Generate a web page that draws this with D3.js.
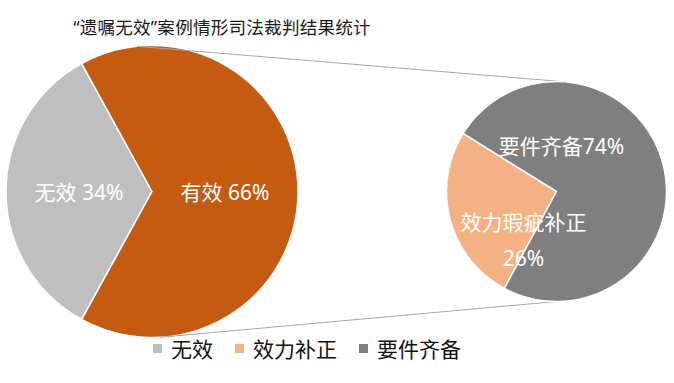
<!DOCTYPE html>
<html><head><meta charset="utf-8">
<script src="https://cdn.jsdelivr.net/npm/d3@7"></script>
<style>
body{margin:0;background:#fff;}
svg text{font-family:"Noto Sans","Noto Sans CJK SC",sans-serif;}
</style></head>
<body>
<svg id="chart" width="674" height="383"></svg>
<script>
// ---- data ----
const title = "“遗嘱无效”案例情形司法裁判结果统计";
const mainCategories = ["无效", "有效"];
const mainValues = [34, 66];
const subCategories = ["效力瑕疵补正", "要件齐备"];
const subValues = [26, 74];
const legendLabels = ["无效", "效力补正", "要件齐备"];

// ---- style / layout ----
const mainColors = ["#BFBFBF", "#C55A11"];
const subColors = ["#F4B183", "#7F7F7F"];
const legendColors = ["#BFBFBF", "#F4B183", "#7F7F7F"];
const deg = Math.PI / 180;

const svg = d3.select("#chart");

const main = {cx: 152, cy: 191.5, r: 146};
const sub = {cx: 556.5, cy: 191.5, r: 110};

// title
svg.append("text").attr("x", 222).attr("y", 34)
  .attr("text-anchor", "middle").attr("font-size", 17.6).attr("fill", "#1a1a1a")
  .attr("letter-spacing", 0.2)
  .text(title);

// main pie: 无效 slice centered on the left
const mainStart = (270 - mainValues[0] / 100 * 360 / 2) * deg;
const mainPie = d3.pie().sort(null).startAngle(mainStart).endAngle(mainStart + 2 * Math.PI);
const mainArcs = mainPie(mainValues);
const mainArc = d3.arc().innerRadius(0).outerRadius(main.r);
const gMain = svg.append("g").attr("transform", `translate(${main.cx},${main.cy})`);
gMain.selectAll("path").data(mainArcs).join("path")
  .attr("d", mainArc).attr("fill", (d, i) => mainColors[i])
  .attr("stroke", "#fff").attr("stroke-width", 1.5).attr("stroke-linejoin", "round");

const mainLabelArc = d3.arc().innerRadius(main.r * 0.5).outerRadius(main.r * 0.5);
gMain.selectAll("text").data(mainArcs).join("text")
  .attr("transform", d => { const c = mainLabelArc.centroid(d); return `translate(${c[0]},${c[1] + 8})`; })
  .attr("text-anchor", "middle").attr("font-size", 21).attr("fill", "#fff")
  .text((d, i) => `${mainCategories[i]} ${mainValues[i]}%`);

// sub pie
const subStart = 208.3 * deg;
const subPie = d3.pie().sort(null).startAngle(subStart).endAngle(subStart + 2 * Math.PI);
const subArcs = subPie(subValues);
const subArc = d3.arc().innerRadius(0).outerRadius(sub.r);

// connector lines
const pt = (c, a) => [c.cx + c.r * Math.sin(a * deg), c.cy - c.r * Math.cos(a * deg)];
const connectors = [[pt(main, -6), pt(sub, 5)], [pt(main, 177), pt(sub, 180)]];
svg.append("g").selectAll("line").data(connectors).join("line")
  .attr("x1", d => d[0][0]).attr("y1", d => d[0][1])
  .attr("x2", d => d[1][0]).attr("y2", d => d[1][1])
  .attr("stroke", "#A6A6A6").attr("stroke-width", 1);

const gSub = svg.append("g").attr("transform", `translate(${sub.cx},${sub.cy})`);
gSub.selectAll("path").data(subArcs).join("path")
  .attr("d", subArc).attr("fill", (d, i) => subColors[i])
  .attr("stroke", "#fff").attr("stroke-width", 1.5).attr("stroke-linejoin", "round");

// sub labels
gSub.append("text").attr("x", 5).attr("y", -46 + 8)
  .attr("text-anchor", "middle").attr("font-size", 21).attr("fill", "#fff")
  .text(`${subCategories[1]}${subValues[1]}%`);
const t2 = gSub.append("text").attr("text-anchor", "middle").attr("font-size", 21).attr("fill", "#fff");
t2.append("tspan").attr("x", -33).attr("y", 30 + 8).text(subCategories[0]);
t2.append("tspan").attr("x", -33).attr("y", 66 + 8).text(`${subValues[0]}%`);

// legend
const gLeg = svg.append("g");
let lx = 153;
const ly = 349;
legendLabels.forEach((lab, i) => {
  gLeg.append("rect").attr("x", lx).attr("y", ly - 5).attr("width", 9).attr("height", 9)
    .attr("fill", legendColors[i]);
  const t = gLeg.append("text").attr("x", lx + 18).attr("y", ly + 7.5)
    .attr("font-size", 21).attr("fill", "#111").text(lab);
  lx += 18 + t.node().getComputedTextLength() + 22;
});
</script>
</body></html>
